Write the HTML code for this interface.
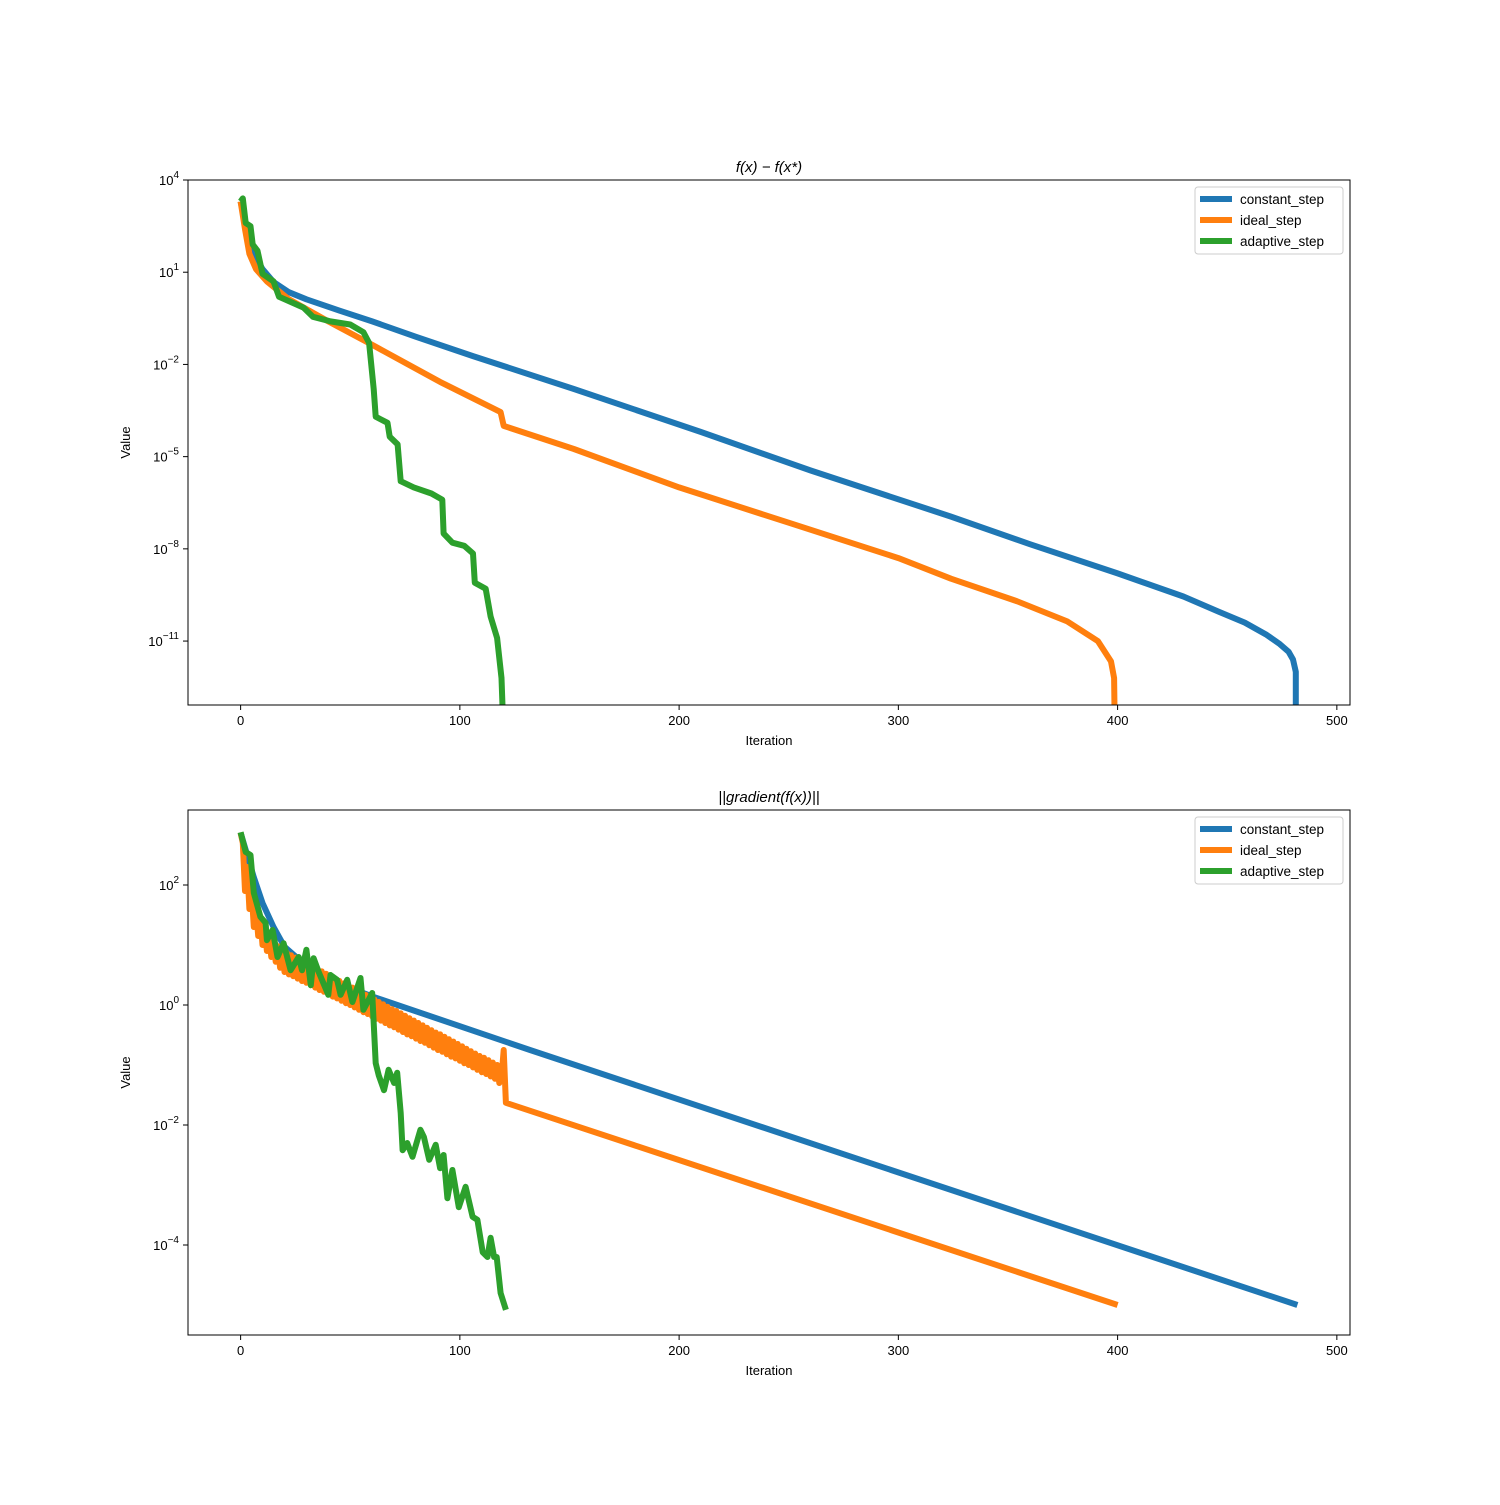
<!DOCTYPE html>
<html><head><meta charset="utf-8"><style>
body{margin:0;background:#fff;font-family:"Liberation Sans","DejaVu Sans",sans-serif}
svg text{font-family:"Liberation Sans","DejaVu Sans",sans-serif;fill:#000}
</style></head><body>
<svg id="fig" width="1500" height="1500" viewBox="0 0 1500 1500" xmlns="http://www.w3.org/2000/svg"></svg>
<script>
// ---- data (log10 values) ----
const xTicks=[0,100,200,300,400,500];
const topYTicks=[4,1,-2,-5,-8,-11];
const botYTicks=[2,0,-2,-4];
const seriesNames=["constant_step","ideal_step","adaptive_step"];
const colors=["#1f77b4","#ff7f0e","#2ca02c"];
const topBlueX=[0,3,6,10,15,22,30,45,60,80,106,152,210,260,324,360,400,430,446,458,468,474,478,480,481.3,481.3];
const topBlueY=[3.3,2.3,1.6,1.1,0.68,0.35,0.12,-0.25,-0.6,-1.1,-1.73,-2.8,-4.2,-5.45,-6.95,-7.85,-8.8,-9.55,-10.04,-10.4,-10.8,-11.1,-11.35,-11.6,-12.0,-13.2];
const topOrangeX=[0,2,4,7,12,22,40,61,91,118.6,120,152,200,250,300,324,354,377,391,397,398.4,398.6];
const topOrangeY=[3.3,2.4,1.6,1.1,0.7,0.12,-0.6,-1.4,-2.57,-3.55,-4.0,-4.75,-6.0,-7.15,-8.3,-8.97,-9.7,-10.36,-11.0,-11.66,-12.2,-13.2];
const topGreenX=[0,1,2.3,4.5,5.5,7.7,10,15,17.5,28.7,33,41,50,56,58.6,60.7,61.6,67,68,71.6,73,79,87,92,92.6,96.6,102,106,106.8,111.8,114,117,119,119.5];
const topGreenY=[3.3,3.4,2.6,2.5,1.9,1.7,0.95,0.7,0.2,-0.15,-0.45,-0.6,-0.7,-0.95,-1.3,-2.8,-3.7,-3.9,-4.35,-4.6,-5.8,-6.0,-6.2,-6.4,-7.5,-7.8,-7.9,-8.15,-9.1,-9.3,-10.2,-10.9,-12.2,-13.2];
const botBlueX=[0,3,6,10,15,20,30,45,61,132,482];
const botBlueY=[2.87,2.5,2.13,1.7,1.3,0.97,0.65,0.35,0.13,-0.75,-5.0];
const botOrangeX=[0,1,2,3,4,5,6,7,8,9,10,11,12,13,14,15,16,17,18,19,20,21,22,23,24,25,26,27,28,29,30,31,32,33,34,35,36,37,38,39,40,41,42,43,44,45,46,47,48,49,50,51,52,53,54,55,56,57,58,59,60,61,62,63,64,65,66,67,68,69,70,71,72,73,74,75,76,77,78,79,80,81,82,83,84,85,86,87,88,89,90,91,92,93,94,95,96,97,98,99,100,101,102,103,104,105,106,107,108,109,110,111,112,113,114,115,116,117,118,119,120,121,400];
const botOrangeY=[2.87,2.7,1.9,2.3,1.6,1.9,1.3,1.6,1.15,1.45,1.0,1.3,0.9,1.15,0.8,1.05,0.72,0.98,0.62,0.92,0.55,0.87,0.51,0.83,0.48,0.79,0.44,0.75,0.40,0.71,0.37,0.68,0.33,0.64,0.29,0.60,0.25,0.56,0.22,0.52,0.18,0.48,0.14,0.44,0.11,0.40,0.07,0.36,0.03,0.32,0.0,0.29,-0.04,0.25,-0.08,0.21,-0.12,0.17,-0.15,0.13,-0.19,0.09,-0.23,0.05,-0.26,0.01,-0.30,-0.03,-0.34,-0.07,-0.37,-0.10,-0.41,-0.14,-0.45,-0.18,-0.49,-0.22,-0.52,-0.26,-0.56,-0.30,-0.60,-0.34,-0.63,-0.38,-0.67,-0.42,-0.71,-0.46,-0.75,-0.49,-0.78,-0.53,-0.82,-0.57,-0.86,-0.61,-0.89,-0.65,-0.93,-0.69,-0.97,-0.73,-1.0,-0.77,-1.04,-0.81,-1.08,-0.85,-1.12,-0.88,-1.15,-0.92,-1.19,-0.96,-1.23,-1.0,-1.3,-1.2,-0.75,-1.63,-5.0];
const botGreenX=[0,2.3,4.5,6,9,11.4,12,14.6,16.8,19.6,22.8,26.5,28,30,32,33.3,35.6,40,41,44,45.6,48.6,51,54.7,56,60,61.6,63,65.4,67.5,70,71.4,73,73.9,76,78.4,82,83.6,86,89,91,92.6,94.3,96.6,99.5,102.6,105.8,108,110.4,112.6,114,115.6,116.8,118.6,121];
const botGreenY=[2.88,2.55,2.5,1.87,1.47,1.37,1.08,1.25,0.8,1.03,0.58,0.8,0.58,0.92,0.33,0.78,0.55,0.17,0.5,0.42,0.17,0.42,0.05,0.45,-0.08,0.2,-0.97,-1.17,-1.42,-1.08,-1.3,-1.13,-1.8,-2.42,-2.3,-2.53,-2.08,-2.2,-2.58,-2.33,-2.72,-2.5,-3.22,-2.75,-3.37,-3.03,-3.53,-3.58,-4.12,-4.2,-3.88,-4.2,-4.2,-4.8,-5.08];

const NS="http://www.w3.org/2000/svg";
const svg=document.getElementById('fig');
function mk(tag,attrs,parent){const e=document.createElementNS(NS,tag);for(const k in attrs)e.setAttribute(k,attrs[k]);(parent||svg).appendChild(e);return e;}

function panel(cfg){
  const L=188,R=1350,T=cfg.top,B=cfg.top+525;
  const xmin=-24,xmax=506;
  const sx=v=>L+(v-xmin)/(xmax-xmin)*(R-L);
  const sy=v=>T+(cfg.ymax-v)/(cfg.ymax-cfg.ymin)*(B-T);
  const g=mk('g',{});
  
  
  const cp=mk('clipPath',{id:'clip'+cfg.top},g);
  mk('rect',{x:L,y:T,width:R-L,height:B-T},cp);
  const lines=mk('g',{'clip-path':'url(#clip'+cfg.top+')'},g);
  cfg.series.forEach((s,i)=>{
    const d=s[0].map((x,j)=>(j?'L':'M')+sx(x).toFixed(1)+','+sy(s[1][j]).toFixed(1)).join(' ');
    const p=mk('path',{d:d,fill:'none',stroke:colors[i],'stroke-width':6,'stroke-linejoin':'round'},lines);
    
    
  });
  mk('rect',{x:L,y:T,width:R-L,height:B-T,fill:'none',stroke:'#000','stroke-width':1},g);
  xTicks.forEach(t=>{
    mk('line',{x1:sx(t),x2:sx(t),y1:B,y2:B+5,stroke:'#000'},g);
    const tx=mk('text',{x:sx(t),y:B+20,'text-anchor':'middle','font-size':13},g);
    tx.textContent=t;
    
    
  });
  cfg.yticks.forEach(t=>{
    mk('line',{x1:L-5,x2:L,y1:sy(t),y2:sy(t),stroke:'#000'},g);
    const tx=mk('text',{x:L-9,y:sy(t)+5,'text-anchor':'end','font-size':13},g);
    tx.innerHTML='10<tspan dy="-7" font-size="10">'+(t<0?'\u2212'+(-t):t)+'</tspan>';
    
    
  });
  const xl=mk('text',{x:(L+R)/2,y:B+40,'text-anchor':'middle','font-size':13},g);
  xl.textContent='Iteration';
  
  
  const yl=mk('text',{x:0,y:0,'text-anchor':'middle','font-size':13,transform:'translate(130,'+((T+B)/2)+') rotate(-90)'},g);
  yl.textContent='Value';
  
  
  const ti=mk('text',{x:(L+R)/2,y:T-8,'text-anchor':'middle','font-size':15,'font-style':'italic'},g);
  ti.textContent=cfg.title;
  
  
  const lg=mk('g',{},g);
  
  
  mk('rect',{x:1195,y:T+7,width:148,height:67,rx:3,fill:'#fff',stroke:'#ccc'},lg);
  seriesNames.forEach((n,i)=>{
    const yy=T+19+i*21;
    mk('line',{x1:1200,x2:1232,y1:yy,y2:yy,stroke:colors[i],'stroke-width':6},lg);
    const t=mk('text',{x:1240,y:yy+5,'font-size':13.5},lg);
    t.textContent=n;
    
    
  });
}
panel({name:'top-chart',top:180,ymax:4,ymin:-13.08,yticks:topYTicks,title:'f(x) \u2212 f(x*)',
  series:[[topBlueX,topBlueY],[topOrangeX,topOrangeY],[topGreenX,topGreenY]]});
panel({name:'bottom-chart',top:810,ymax:3.25,ymin:-5.5,yticks:botYTicks,title:'||gradient(f(x))||',
  series:[[botBlueX,botBlueY],[botOrangeX,botOrangeY],[botGreenX,botGreenY]]});
</script>
</body></html>
